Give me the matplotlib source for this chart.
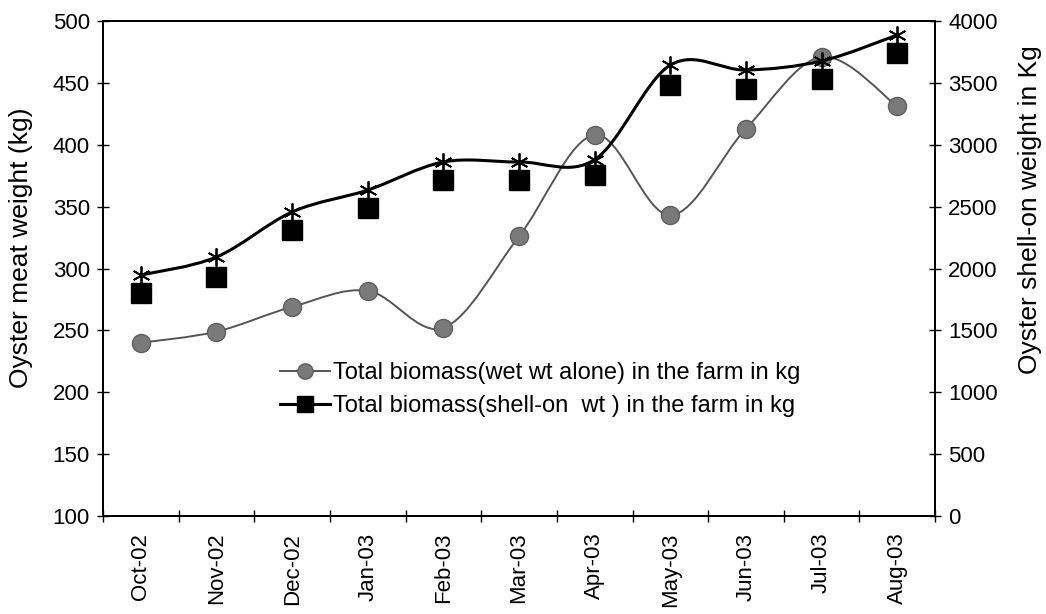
import numpy as np
import matplotlib.pyplot as plt
from matplotlib.path import Path
from matplotlib.patches import PathPatch
from matplotlib.lines import Line2D

plt.rcParams['font.family'] = ['Liberation Sans', 'DejaVu Sans']

months = ['Oct-02', 'Nov-02', 'Dec-02', 'Jan-03', 'Feb-03', 'Mar-03',
          'Apr-03', 'May-03', 'Jun-03', 'Jul-03', 'Aug-03']
wet_wt = [240, 249, 269, 282, 252, 326, 408, 343, 413, 471, 431]
shell_on_sq = [1800, 1930, 2310, 2490, 2715, 2715, 2755, 3483, 3450, 3531, 3741]
shell_on_star = [1947, 2093, 2457, 2634, 2861, 2861, 2880, 3644, 3604, 3677, 3887]


def smooth_path(x, y):
    # Excel-style smoothed line: cubic bezier through every point
    pts = np.column_stack([np.asarray(x, float), np.asarray(y, float)])
    verts = [pts[0]]
    codes = [Path.MOVETO]
    n = len(pts)
    for i in range(n - 1):
        p0 = pts[i - 1] if i > 0 else pts[i]
        p1 = pts[i]
        p2 = pts[i + 1]
        p3 = pts[i + 2] if i + 2 < n else pts[i + 1]
        verts += [p1 + (p2 - p0) / 6.0, p2 - (p3 - p1) / 6.0, p2]
        codes += [Path.CURVE4] * 3
    return Path(verts, codes)


x = np.arange(len(months))

fig = plt.figure(figsize=(10.46, 6.14), dpi=100)
ax = fig.add_axes([0.0985, 0.1596, 0.7955, 0.8062])
ax2 = ax.twinx()

# wet weight on left axis
ax.add_patch(PathPatch(smooth_path(x, wet_wt), fill=False, edgecolor='#555555',
                       lw=1.4, zorder=3))
ax.plot(x, wet_wt, ls='none', marker='o', ms=13, mfc='#7a7a7a', mec='#5e5e5e',
        mew=1, zorder=4)

# shell-on weight on right axis
ax2.plot(x, shell_on_sq, ls='none', marker='s', ms=14, mfc='black', mec='black',
         zorder=3)
ax2.add_patch(PathPatch(smooth_path(x, shell_on_star), fill=False, edgecolor='black',
                        lw=2.2, zorder=4))
ax2.plot(x, shell_on_star, ls='none', marker=(6, 2, 0), ms=13, mec='black',
         mew=1.3, zorder=5)

ax.set_xlim(-0.5, len(months) - 0.5)
ax.set_ylim(100, 500)
ax2.set_ylim(0, 4000)
ax.set_yticks(range(100, 501, 50))
ax2.set_yticks(range(0, 4001, 500))

ax.set_xticks(x)
ax.set_xticklabels(months, rotation=90, fontsize=16)
ax.set_xticks(np.arange(-0.5, len(months), 1), minor=True)
ax.tick_params(axis='x', which='major', length=0, pad=12)
ax.tick_params(axis='x', which='minor', direction='inout', length=9, width=1)
ax.tick_params(axis='y', direction='inout', length=9, width=1, labelsize=16, pad=5)
ax2.tick_params(axis='y', direction='inout', length=9, width=1, labelsize=16, pad=5)

for a in (ax, ax2):
    for s in a.spines.values():
        s.set_linewidth(1.3)

ax.set_ylabel('Oyster meat weight (kg)', fontsize=19)
ax.yaxis.set_label_coords(-0.084, 0.541)
ax2.set_ylabel('Oyster shell-on weight in Kg', fontsize=19)
ax2.yaxis.set_label_coords(1.0998, 0.618)

h1 = Line2D([], [], color='#555555', lw=1.4, marker='o', ms=11,
            mfc='#7a7a7a', mec='#5e5e5e')
h2a = Line2D([], [], ls='none', marker='s', ms=11, mfc='black', mec='black')
h2b = Line2D([], [], color='black', lw=2.2, marker=(6, 2, 0), ms=11, mec='black')
fig.legend([h1, (h2a, h2b)],
           ['Total biomass(wet wt alone) in the farm in kg',
            'Total biomass(shell-on  wt ) in the farm in kg'],
           loc='upper left', bbox_to_anchor=(0.268, 0.41),
           bbox_transform=fig.transFigure, frameon=False, numpoints=1,
           fontsize=17, handlelength=2.1, handletextpad=0.15, labelspacing=0.45,
           borderpad=0, borderaxespad=0)

fig.savefig('out.png', dpi=100)
